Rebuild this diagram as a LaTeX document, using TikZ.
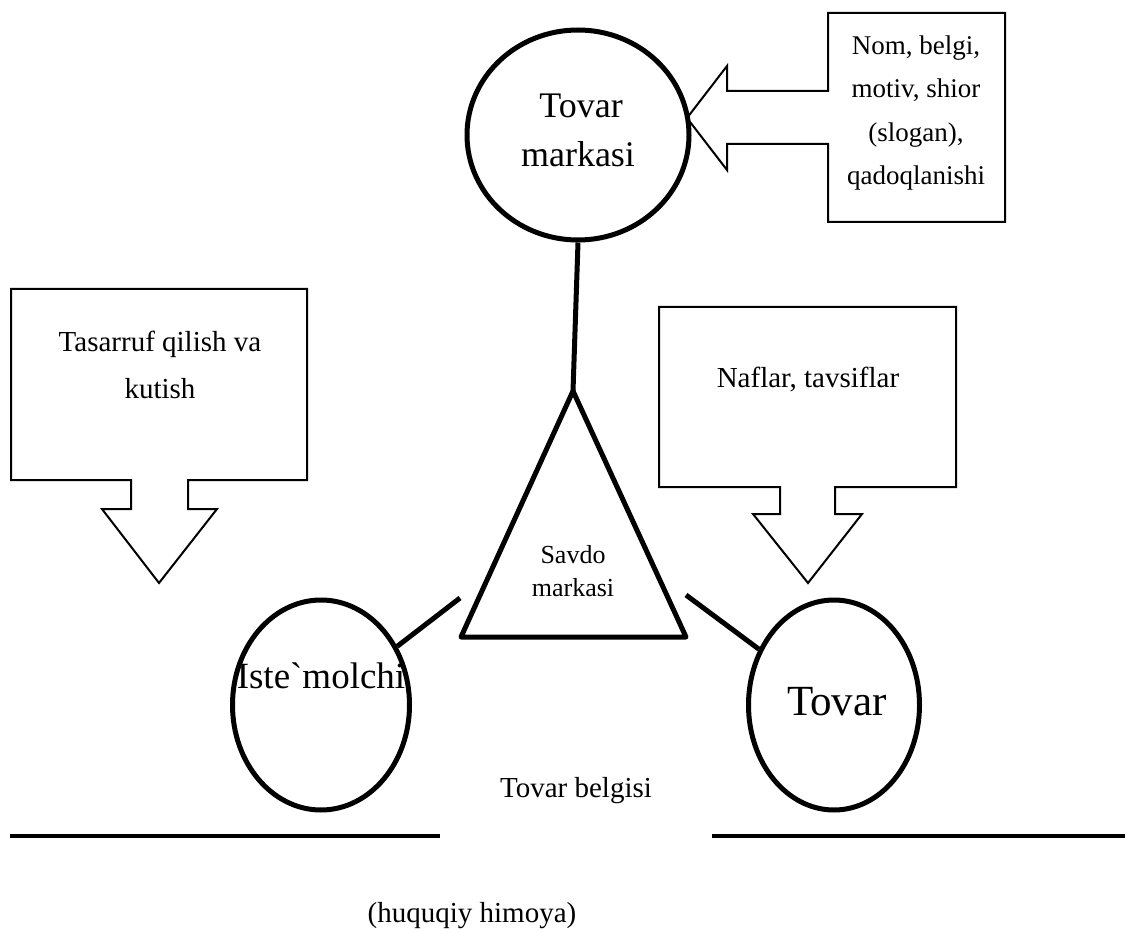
\documentclass[tikz,border=0pt]{standalone}
\usepackage{fontspec}
\setmainfont{Liberation Serif}[Ligatures=TeXOff]
\usetikzlibrary{shapes.geometric}
\begin{document}
\begin{tikzpicture}[x=1pt,y=-1pt,
  heavy/.style={line width=5pt},
  light/.style={line width=2pt, line join=miter},
  oval/.style={draw, heavy, ellipse, inner sep=0pt},
  txt/.style={anchor=base, inner sep=0pt},
  fs/.style={font=\fontsize{#1}{#1}\selectfont},
]
\useasboundingbox (0,0) rectangle (1127,933);

% --- callout boxes with block arrows ---
\draw[light] (828,13) -- (1005,13) -- (1005,222) -- (828,222) -- (828,144)
  -- (727,144) -- (727,170) -- (687,118) -- (727,66) -- (727,91) -- (828,91) -- cycle;
\draw[light] (11,289) -- (307,289) -- (307,480) -- (188,480) -- (188,509)
  -- (217,509) -- (159,583) -- (102,509) -- (131,509) -- (131,480) -- (11,480) -- cycle;
\draw[light] (659,307) -- (956,307) -- (956,487) -- (835,487) -- (835,514)
  -- (862,514) -- (808,583) -- (753,514) -- (780,514) -- (780,487) -- (659,487) -- cycle;

\node[txt, fs=27] (t1) at (916,55) {Nom, belgi,};
\node[txt, fs=27] (t2) at (916,98) {motiv, shior};
\node[txt, fs=27] (t3) at (916,142) {(slogan),};
\node[txt, fs=27] (t4) at (916,185) {qadoqlanishi};
\node[txt, fs=29] (l1) at (160,352) {Tasarruf qilish va};
\node[txt, fs=29] (l2) at (160,398) {kutish};
\node[txt, fs=29] (r1) at (808,387) {Naflar, tavsiflar};

% --- trade mark circle and triangle ---
\node[oval, minimum width=222, minimum height=210] (tm) at (578,135) {};
\node[txt, fs=36] (tm1) at (581,118) {Tovar};
\node[txt, fs=36] (tm2) at (578,167) {markasi};

\coordinate (apex) at (573,391);
\coordinate (bl) at (461,637);
\coordinate (br) at (686,637);
\draw[heavy, line join=round] (apex) -- (bl) -- (br) -- cycle;
\node[txt, fs=26] (s1) at (573,563) {Savdo};
\node[txt, fs=26] (s2) at (573,596) {markasi};

\draw[heavy] (tm.south) -- (apex);

% --- consumer and goods ---
\node[oval, minimum width=177, minimum height=210] (ist) at (321,705) {};
\node[oval, minimum width=171, minimum height=210] (tov) at (834,705) {};
\node[txt, fs=37] (istt) at (321,688) {Iste`molchi};
\node[txt, fs=43] (tovt) at (837,715) {Tovar};

\coordinate (cl) at (460,598);
\coordinate (cr) at (686,595);
\draw[heavy] (cl) -- (ist);
\draw[heavy] (cr) -- (tov);

% --- bottom labels and rules ---
\node[txt, fs=29] (tb) at (576,797) {Tovar belgisi};
\coordinate (a1) at (10,836);
\coordinate (a2) at (440,836);
\coordinate (b1) at (712,836);
\coordinate (b2) at (1125,836);
\draw[line width=4pt] (a1) -- (a2);
\draw[line width=4pt] (b1) -- (b2);
\node[txt, fs=29] (hh) at (472,922) {(huquqiy himoya)};
\end{tikzpicture}
\end{document}
